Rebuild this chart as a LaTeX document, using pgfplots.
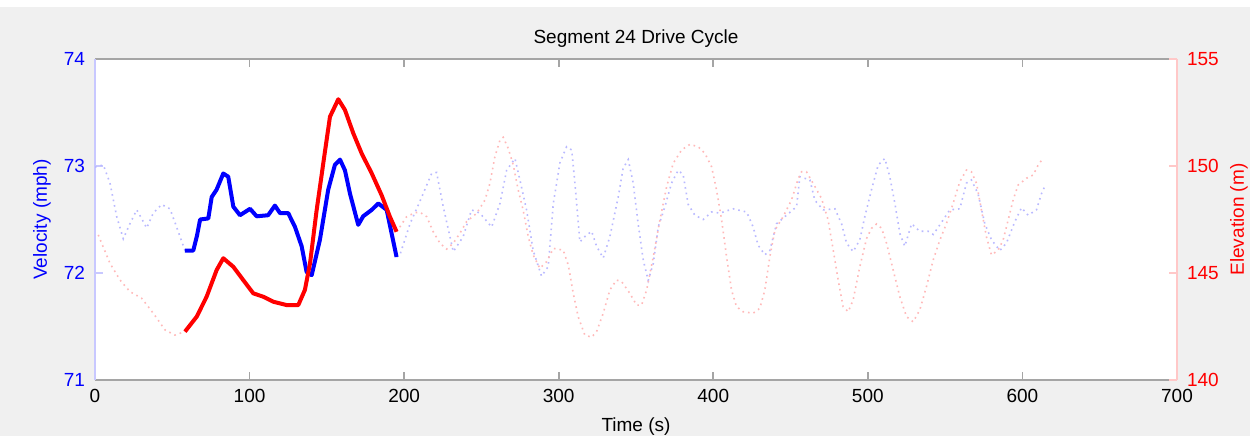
\documentclass[border=0pt]{standalone}
\usepackage{fontspec}
\setmainfont{Liberation Sans}
\usepackage{pgfplots}
\pgfplotsset{compat=1.18}
\definecolor{bgray}{RGB}{240,240,240}
\definecolor{framegray}{RGB}{165,165,165}
\definecolor{lblue}{RGB}{185,185,255}
\definecolor{lred}{RGB}{255,185,185}
\definecolor{sblue}{RGB}{200,200,255}
\definecolor{sred}{RGB}{255,200,200}
\newcommand{\fs}{\fontsize{9.5}{11}\selectfont}
\begin{document}
\begin{tikzpicture}
\path[use as bounding box] (0,0) rectangle (625pt,218pt);
\fill[bgray] (0,0) rectangle (625pt,214.5pt);
\begin{axis}[
  at={(47.5pt,28pt)}, anchor=south west,
  scale only axis, width=541pt, height=160.5pt,
  xmin=0, xmax=700, ymin=71, ymax=74,
  xtick={0,100,...,700}, ytick={71,72,73,74},
  axis background/.style={fill=white},
  axis x line*=box, axis y line*=left,
  xtick pos=both, xticklabel pos=left,
  tick align=inside,
  x axis line style={framegray, line width=0.6pt},
  y axis line style={sblue, line width=0.6pt},
  xtick style={framegray, line width=0.8pt},
  ytick style={sblue, line width=0.8pt},
  major tick length=4pt,
  /pgf/number format/assume math mode=true,
  xticklabel style={font=\fs, black, yshift=-1pt},
  yticklabel style={font=\fs, blue, xshift=-1.5pt},
  title={Segment 24 Drive Cycle},
  title style={font=\fs, yshift=-3.5pt},
  xlabel={Time (s)},
  xlabel style={font=\fs, at={(axis description cs:0.5,-0.146)}, anchor=center},
  ylabel={Velocity (mph)},
  ylabel style={font=\fs, blue, at={(axis description cs:-0.049,0.5)}, anchor=center, rotate=0},
  clip=true,
]
% dotted velocity before segment
\addplot[lblue, line width=0.8pt, dash pattern=on 0.8pt off 2pt] coordinates {
(0,72.99) (5.4,73.01) (9.7,72.84) (14,72.53) (18.3,72.32) (22.6,72.46) (27,72.59)
(30.5,72.50) (33.4,72.42) (37.7,72.56) (43.1,72.64) (48.5,72.60) (52.8,72.43) (58.2,72.21)
};
% dotted velocity after segment
\addplot[lblue, line width=0.8pt, dash pattern=on 0.8pt off 2pt] coordinates {
(195.1,72.15) (197.3,72.17) (203.8,72.46) (210.2,72.67) (217.8,72.93) (221,72.94)
(225.3,72.62) (231.8,72.20) (238.2,72.34) (243.6,72.59) (249,72.56) (256.6,72.43)
(262,72.65) (266.3,72.96) (271.7,73.07) (274.9,72.87) (279.2,72.59) (283.5,72.21)
(288.9,71.97) (293.2,72.06) (296.5,72.65) (300.8,73.03) (305.1,73.18) (308.4,73.15)
(310.5,72.84) (313.7,72.29) (316.9,72.34) (321.3,72.39) (324.5,72.25) (328.8,72.14)
(333.1,72.34) (338.5,72.71) (341.7,72.98) (345,73.06) (348.2,72.84) (351.4,72.46)
(354.7,72.12) (357.9,71.93) (361.2,72.09) (364.4,72.43) (368.7,72.62) (373,72.84)
(377.3,72.96) (380.5,72.92) (383.8,72.64) (388.1,72.54) (393.5,72.50) (398.9,72.57)
(404.3,72.56) (412.9,72.60) (421.6,72.57) (425.8,72.43) (429,72.26) (433.4,72.17)
(436.6,72.21) (440.9,72.46) (447.4,72.54) (453.9,72.62) (456,72.90) (462.5,72.87)
(465.7,72.68) (471.1,72.59) (478.7,72.60) (483,72.46) (486.2,72.28) (490.5,72.20)
(494.8,72.31) (498.1,72.53) (502.4,72.78) (506.7,73.01) (511,73.07) (514.2,72.90)
(517.5,72.65) (520.7,72.37) (523.9,72.25) (528.3,72.46) (533.6,72.39) (539,72.39)
(542.3,72.36) (546.6,72.45) (553,72.59) (559.5,72.60) (563.8,72.84) (567,72.87)
(571.3,72.74) (575.7,72.46) (580,72.31) (585.4,72.21) (589.7,72.28) (595.1,72.48)
(599.4,72.61) (603.7,72.54) (609.1,72.59) (612.3,72.74) (614.5,72.81)
};
% solid velocity segment
\addplot[blue, line width=2pt, line join=round] coordinates {
(58.2,72.21) (63.6,72.21) (66,72.35) (68,72.50) (73.3,72.51) (75.5,72.71) (78.7,72.78)
(83,72.93) (86.2,72.90) (89.5,72.62) (93.8,72.54) (100.3,72.60) (104.6,72.53) (112,72.54)
(116.4,72.63) (119.7,72.56) (125,72.56) (129.4,72.43) (133.7,72.25) (136.9,72.01)
(140.2,71.98) (145.5,72.31) (150.9,72.78) (155.2,73.01) (158.5,73.06) (161.7,72.96)
(165,72.74) (170.3,72.45) (173.5,72.53) (179,72.59) (183.3,72.65) (188.7,72.59)
(191.9,72.37) (195.1,72.15)
};
\end{axis}
\begin{axis}[
  at={(47.5pt,28pt)}, anchor=south west,
  scale only axis, width=541pt, height=160.5pt,
  xmin=0, xmax=700, ymin=140, ymax=155,
  ytick={140,145,150,155},
  axis x line=none, axis y line*=right,
  tick align=inside,
  y axis line style={sred, line width=0.6pt},
  ytick style={sred, line width=0.8pt},
  major tick length=4pt,
  /pgf/number format/assume math mode=true,
  yticklabel style={font=\fs, red, xshift=1.5pt},
  ylabel={Elevation (m)},
  ylabel style={font=\fs, red, at={(axis description cs:1.0573,0.5)}, anchor=center, rotate=0},
  clip=true,
]
% dotted elevation before
\addplot[lred, line width=0.8pt, dash pattern=on 0.8pt off 2pt] coordinates {
(2.1,146.78) (9.7,145.45) (16.2,144.67) (22.6,144.13) (30.2,143.82) (37.7,143.12)
(45.3,142.34) (51.7,142.10) (58.2,142.26)
};
% dotted elevation after
\addplot[lred, line width=0.8pt, dash pattern=on 0.8pt off 2pt] coordinates {
(195.1,146.93) (197.3,147.16) (201.6,147.63) (207,147.82) (210.2,147.84) (214.6,147.63)
(218.8,146.93) (223.2,146.39) (227.5,146.12) (231.8,146.39) (236.1,146.86) (240.4,147.40)
(246.9,147.79) (252.3,148.41) (255.5,149.19) (258.7,150.43) (262,151.21) (264.1,151.34)
(267.3,150.83) (270.6,150.05) (273.8,148.88) (277,147.94) (280.3,146.70) (283.5,145.84)
(287.8,145.22) (292.2,145.53) (296.5,146.15) (302.9,146.07) (306.2,145.37) (309.4,144.05)
(312.6,142.96) (316.9,142.10) (321.3,142.00) (324.5,142.26) (328.8,143.12) (333.1,144.21)
(337.4,144.67) (340.7,144.60) (346,144.05) (350.4,143.50) (353.6,143.50) (356.9,144.21)
(361.2,145.76) (365.5,147.48) (369.8,149.03) (374.1,150.13) (379.5,150.75) (384.9,151.01)
(390.2,150.90) (394.6,150.59) (398.9,149.97) (402.1,148.88) (405.4,147.48) (408.6,145.76)
(411.8,144.21) (415,143.43) (419.3,143.19) (425.8,143.12) (430.1,143.35) (433.4,144.21)
(436.6,145.76) (439.9,147.01) (445.2,147.63) (450.6,148.41) (454.9,149.40) (457.1,149.73)
(460.3,149.73) (464.6,149.19) (470,148.49) (474.3,147.48) (477.6,146.07) (480.8,144.67)
(484,143.43) (487.3,143.19) (490.5,143.74) (494.8,145.29) (499.2,146.62) (502.4,147.09)
(505.6,147.29) (508.9,147.09) (512.1,146.39) (516.4,145.14) (520.7,143.89) (525,142.96)
(529.3,142.72) (533.6,143.27) (537.9,144.36) (542.3,145.61) (546.6,146.54) (550.9,147.32)
(555.2,148.26) (559.5,149.27) (563.8,149.81) (567,149.73) (570.3,149.19) (573.5,147.94)
(576.7,146.70) (580,145.84) (584.3,146.07) (587.5,146.54) (590.8,147.48) (594,148.41)
(597.2,149.11) (602.7,149.43) (607,149.58) (610.2,150.05) (613.4,150.36)
};
% solid elevation
\addplot[red, line width=2pt, line join=round] coordinates {
(58.2,142.26) (65.8,142.96) (72.2,143.89) (78.7,145.14) (83,145.69) (89.5,145.29)
(95.9,144.67) (102.4,144.05) (108.9,143.89) (115.3,143.66) (124,143.50) (131.5,143.50)
(135.8,144.21) (139.1,145.45) (143.4,147.94) (147.7,150.13) (152,152.30) (157.4,153.12)
(161.7,152.62) (167.1,151.53) (172.5,150.59) (179,149.66) (185.4,148.64) (190.8,147.63)
(195.1,146.93)
};
\end{axis}
\end{tikzpicture}
\end{document}
